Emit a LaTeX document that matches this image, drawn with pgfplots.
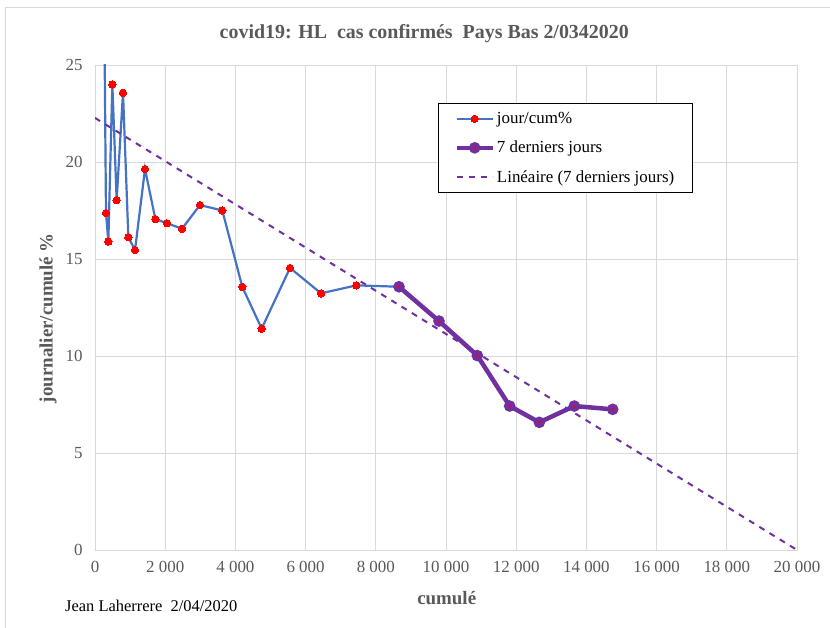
\documentclass[border=0pt]{standalone}
\usepackage{pgfplots}
\pgfplotsset{compat=1.18}
\usepackage{fontspec}
\setmainfont{Liberation Serif}

\definecolor{bl}{HTML}{4472C4}
\definecolor{pu}{HTML}{7030A0}
\definecolor{tx}{HTML}{595959}
\definecolor{gr}{HTML}{D9D9D9}

\begin{document}
\begin{tikzpicture}[x=1bp,y=1bp]
\useasboundingbox (0,0) rectangle (830,628);
\draw[gr, line width=1bp] (5,0) -- (5,620) -- (830,620);
\begin{axis}[
    at={(95bp,78bp)}, anchor=south west,
    scale only axis, width=702bp, height=485bp,
    xmin=0, xmax=20000,
    ymin=0, ymax=25,
    xtick={0,2000,...,20000},
    ytick={0,5,10,15,20,25},
    scaled x ticks=false,
    grid=major,
    major grid style={gr, line width=0.9bp},
    axis line style={gr, line width=0.9bp},
    tick style={draw=none},
    /pgf/number format/assume math mode=true,
    /pgf/number format/1000 sep={\hspace{0.25em}},
    ticklabel style={font=\fontsize{17}{20}\selectfont, text=tx},
    xticklabel style={yshift=-8bp},
    yticklabel style={xshift=-9bp},
    title={covid19: HL\ \ cas confirmés\ \ Pays Bas 2/0342020},
    title style={at={(rel axis cs:0.469,1)}, anchor=center, yshift=25bp,
        font=\fontsize{20}{23}\selectfont\bfseries, text=tx},
    xlabel={cumulé},
    xlabel style={at={(rel axis cs:0.501,0)}, anchor=center, yshift=-48bp,
        font=\fontsize{19}{22}\selectfont\bfseries, text=tx},
    ylabel={journalier/cumulé \%},
    ylabel style={at={(rel axis cs:0,0.478)}, anchor=center, yshift=47bp,
        font=\fontsize{19}{22}\selectfont\bfseries, text=tx},
    legend style={at={(rel axis cs:0.4886,0.9216)}, anchor=north west,
        draw=black, line width=0.9bp, fill=white,
        font=\fontsize{17}{20}\selectfont,
        row sep=12bp, inner xsep=16bp, inner ysep=7bp},
    legend cell align=left,
    legend image code/.code={
        \draw[mark repeat=2, mark phase=2]
        plot coordinates {(0bp,0bp) (18bp,0bp) (36bp,0bp)};},
]

% jour/cum%
\addplot[color=bl, line width=2.2bp, mark=*, mark size=3.7bp,
    mark options={fill=red, draw=red, line width=0bp}]
coordinates {
(230,35.0)(313,17.37)(380,15.90)(494,24.00)(617,18.04)(798,23.57)
(950,16.12)(1140,15.46)(1425,19.64)(1719,17.06)(2051,16.84)(2479,16.56)
(2991,17.78)(3627,17.50)(4197,13.56)(4748,11.41)(5556,14.54)(6439,13.23)
(7444,13.64)(8661,13.57)
};
\addlegendentry{jour/cum\%}

% 7 derniers jours
\addplot[color=pu, line width=4.5bp, mark=*, mark size=3.6bp,
    mark options={fill=red, draw=pu, line width=4.2bp}]
coordinates {
(8661,13.57)(9801,11.80)(10893,10.02)(11814,7.42)(12659,6.58)(13655,7.42)(14749,7.25)
};
\addlegendentry{7 derniers jours}

% Linéaire (7 derniers jours)
\addplot[color=pu, line width=2bp, dash pattern=on 6bp off 6bp]
coordinates {
(0,22.27)(20000,0)
};
\addlegendentry{Linéaire (7 derniers jours)}

\end{axis}
\node[font=\fontsize{16.5}{19}\selectfont, anchor=west, inner sep=0pt] at (65,22) {Jean Laherrere\ \ 2/04/2020};
\end{tikzpicture}
\end{document}
